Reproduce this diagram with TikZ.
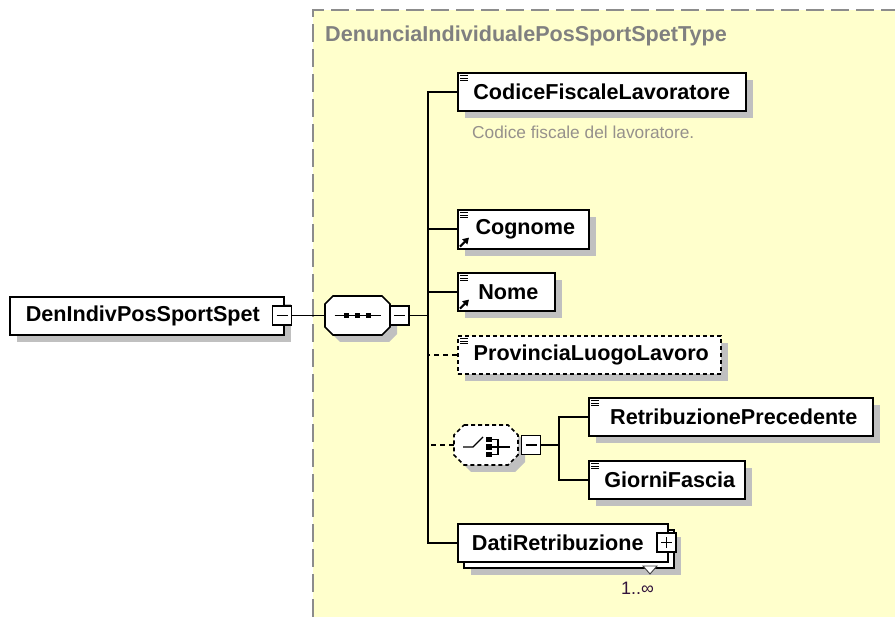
\documentclass[tikz,border=0pt]{standalone}
\usepackage{fontspec}
\setmainfont{Liberation Sans}
\usetikzlibrary{shadows,arrows.meta}
\definecolor{yfill}{RGB}{255,255,204}
\definecolor{bordergray}{RGB}{140,140,140}
\definecolor{shadowgray}{RGB}{192,192,192}
\definecolor{titlegray}{RGB}{128,128,128}
\definecolor{docgray}{RGB}{150,145,140}
\definecolor{occcol}{RGB}{50,20,60}
\tikzset{
  conn/.style={line width=1.6pt, draw=black},
  optconn/.style={conn, dash pattern=on 5pt off 4pt},
  shad/.style={drop shadow={shadow xshift=7pt, shadow yshift=-7pt, fill=shadowgray, opacity=1}},
  elembase/.style={draw=black, line width=1.6pt, fill=white, minimum height=38pt, inner sep=0pt,
    anchor=north west, font=\fontsize{21.6}{24}\selectfont\bfseries},
  elem/.style={elembase, shad},
  optelem/.style={elem, dash pattern=on 4pt off 3pt},
  pmbox/.style={draw=black, line width=1.3pt, fill=white, minimum width=19pt, minimum height=19pt, inner sep=0pt},
  octframe/.style={draw=none, fill=none, inner sep=0pt, rectangle},
  icn/.style={line width=0.9pt},
}
\newcommand\ctmark[1]{\foreach \d in {3.5,6,8.5} \draw[icn] ([xshift=3pt,yshift=-\d pt]#1.north west) -- ++(8,0);}
\newcommand\refmark[1]{\draw[line width=2.2pt,-{Triangle[length=6pt,width=7pt]}] ([xshift=3pt,yshift=3pt]#1.south west) -- ++(9,-9);}
\newcommand\minussign[1]{\draw[line width=1.2pt] ([xshift=-5.5pt]#1.center) -- ([xshift=5.5pt]#1.center);}
% octagon path: cx, cy, half width, half height, chamfer
\newcommand\octp[5]{({#1-#3+#5},{#2-#4}) -- ({#1+#3-#5},{#2-#4}) -- ({#1+#3},{#2-#4+#5}) -- ({#1+#3},{#2+#4-#5}) -- ({#1+#3-#5},{#2+#4}) -- ({#1-#3+#5},{#2+#4}) -- ({#1-#3},{#2+#4-#5}) -- ({#1-#3},{#2-#4+#5}) -- cycle}
\begin{document}
\begin{tikzpicture}[x=1pt,y=-1pt]
\useasboundingbox (0,0) rectangle (895,617);
% complex type region
\fill[yfill] (313,10) rectangle (895,617);
\draw[bordergray, line width=1.5pt, dash pattern=on 18pt off 7pt] (313,617) -- (313,10) -- (895,10);
\node[anchor=west, text=titlegray, font=\fontsize{21.6}{24}\selectfont\bfseries, inner sep=0pt] (title) at (325,36) {DenunciaIndividualePosSportSpetType};

% root element
\node[elem, minimum width=274pt] (root) at (9,296) {\hspace*{-8pt}DenIndivPosSportSpet};
\node[pmbox] (rootm) at (282,315.5) {}; \minussign{rootm}

% sequence
\fill[shadowgray] \octp{364.5}{322.5}{32.5}{19.5}{8};
\filldraw[fill=white, draw=black, line width=1.6pt] \octp{357.5}{315.5}{32.5}{19.5}{8};
\node[octframe, minimum width=65pt, minimum height=39pt] (seq) at (357.5,315.5) {};
\draw[line width=1.4pt] ([xshift=-23pt]seq.center) -- ([xshift=23pt]seq.center);
\foreach \dx in {-11,0,11} \fill ([xshift=\dx pt]seq.center) +(-2.5,-2.5) rectangle +(2.5,2.5);
\node[pmbox] (seqm) at (399.5,315.5) {}; \minussign{seqm}
\draw[conn] (rootm.east) -- (seq.west);
\coordinate (tr) at (428,315.5);
\draw[conn] (seqm.east) -- (tr);

% children
\node[elem, minimum width=288pt] (cfl) at (457,72) {CodiceFiscaleLavoratore};
\ctmark{cfl}
\node[anchor=west, text=docgray, font=\fontsize{17.3}{20}\selectfont, inner sep=0pt] (doc) at (472,132) {Codice fiscale del lavoratore.};

\node[elem, minimum width=131pt, minimum height=39pt] (cog) at (457,209) {\hspace*{4pt}Cognome};
\ctmark{cog} \refmark{cog}

\node[elem, minimum width=97pt] (nome) at (457,272) {\hspace*{4pt}Nome};
\ctmark{nome} \refmark{nome}

\node[optelem, minimum width=263pt] (prov) at (457,335) {\hspace*{4pt}ProvinciaLuogoLavoro};
\ctmark{prov}

% choice
\fill[shadowgray] \octp{493}{452}{32}{20}{10};
\filldraw[fill=white, draw=black, line width=1.6pt, dash pattern=on 4pt off 3pt] \octp{486}{445}{32}{20}{10};
\node[octframe, minimum width=64pt, minimum height=40pt] (ch) at (486,445) {};
\draw[line width=1.4pt] ([shift={(-23pt,-2pt)}]ch.center) -- ([shift={(-13pt,-2pt)}]ch.center) -- ([shift={(-3pt,8pt)}]ch.center);
\foreach \dy in {-5.5,2,9.5} \fill ([shift={(3pt,-\dy pt)}]ch.center) +(-2.6,-2.6) rectangle +(2.6,2.6);
\draw[line width=1.3pt] ([shift={(6pt,5.5pt)}]ch.center) -- ([shift={(12pt,5.5pt)}]ch.center) -- ([shift={(12pt,-9.5pt)}]ch.center) -- ([shift={(6pt,-9.5pt)}]ch.center);
\draw[line width=1.3pt] ([shift={(6pt,-2pt)}]ch.center) -- ([shift={(24pt,-2pt)}]ch.center);
\node[pmbox] (chm) at (531,445) {}; \minussign{chm}
\coordinate (ct) at (559,445);
\draw[conn] (chm.east) -- (ct);

\node[elem, minimum width=284pt] (rp) at (588,397) {\hspace*{6pt}RetribuzionePrecedente};
\ctmark{rp}
\node[elem, minimum width=156pt] (gf) at (588,460) {\hspace*{6pt}GiorniFascia};
\ctmark{gf}
\draw[conn] (rp.west) -- (rp.west -| ct) -- (gf.west -| ct) -- (gf.west);

% repeated complex element
\node[elem, minimum width=210pt] (datib) at (463,529) {};
\draw[draw=black!75, fill=white, line width=0.9pt] (643,566) -- (657,566) -- (650,574) -- cycle;
\node[elembase, minimum width=210pt] (dati) at (457,523) {\hspace*{-10pt}DatiRetribuzione};
\node[pmbox] (datip) at (666.5,542.5) {};
\draw[line width=1.2pt] ([xshift=-5.5pt]datip.center) -- ([xshift=5.5pt]datip.center) ([yshift=-5.5pt]datip.center) -- ([yshift=5.5pt]datip.center);
\node[text=occcol, font=\fontsize{18}{20}\selectfont, inner sep=0pt] (occ) at (637.5,588) {1..∞};

% trunk
\draw[conn] (cfl.west) -- (cfl.west -| tr) -- (dati.west -| tr) -- (dati.west);
\draw[conn] (cog.west) -- (cog.west -| tr);
\draw[conn] (nome.west) -- (nome.west -| tr);
\draw[optconn] (prov.west) -- (prov.west -| tr);
\draw[optconn] (ch.west) -- (ch.west -| tr);
\end{tikzpicture}
\end{document}
